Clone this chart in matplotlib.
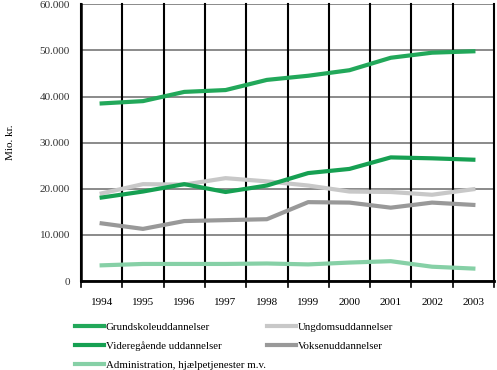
import matplotlib.pyplot as plt
import numpy as np

years = ["1994", "1995", "1996", "1997", "1998", "1999", "2000", "2001", "2002", "2003"]
grundskole = [38500, 39000, 41000, 41400, 43600, 44500, 45700, 48400, 49500, 49800]
ungdom = [19000, 21000, 20900, 22300, 21600, 20700, 19400, 19300, 18700, 19900]
videregaaende = [18100, 19400, 21000, 19300, 20700, 23400, 24300, 26800, 26600, 26300]
voksen = [12500, 11300, 13000, 13200, 13400, 17100, 17000, 15900, 17000, 16500]
admin = [3400, 3700, 3700, 3700, 3800, 3600, 4000, 4300, 3100, 2700]

plt.rcParams['font.family'] = ['Liberation Serif', 'DejaVu Serif']

fig = plt.figure(figsize=(4.97, 3.70), dpi=100)
ax = fig.add_axes([0.163, 0.2405, 0.831, 0.748])

x = np.arange(len(years))
lw = 3
l1, = ax.plot(x, grundskole, color='#22a85a', lw=lw, label='Grundskoleuddannelser')
l2, = ax.plot(x, ungdom, color='#c8c8c8', lw=lw, label='Ungdomsuddannelser')
l3, = ax.plot(x, videregaaende, color='#16a052', lw=lw, label='Videregående uddannelser')
l4, = ax.plot(x, voksen, color='#999999', lw=lw, label='Voksenuddannelser')
l5, = ax.plot(x, admin, color='#86d0a6', lw=lw, label='Administration, hjælpetjenester m.v.')

ax.set_xlim(-0.5, len(years) - 0.5)
ax.set_ylim(0, 60000)
ax.set_yticks(np.arange(0, 60001, 10000))
ax.set_yticklabels(['0', '10.000', '20.000', '30.000', '40.000', '50.000', '60.000'],
                   fontsize=8, color='#333333')
ax.set_xticks(x)
ax.set_xticklabels(years, fontsize=8)
ax.tick_params(axis='x', length=0, pad=12)
ax.tick_params(axis='y', length=0, pad=8)

# category boundary lines
for b in np.arange(-0.5, len(years) + 0.5, 1):
    ax.plot([b, b], [60000, 0], color='black', lw=1.5, zorder=1, clip_on=False)
    ax.plot([b, b], [0, -1200], color='black', lw=1.2, clip_on=False)
ax.grid(axis='y', color='#777777', lw=1.2, zorder=0)
ax.set_axisbelow(True)

for s in ['top', 'right']:
    ax.spines[s].set_visible(False)
ax.spines['left'].set_linewidth(1.8)
ax.spines['bottom'].set_linewidth(2)

fig.text(0.022, 0.615, 'Mio. kr.', rotation=90, fontsize=8, ha='center', va='center')

fig.legend([l1, l3, l5, l2, l4],
           [l1.get_label(), l3.get_label(), l5.get_label(), l2.get_label(), l4.get_label()],
           ncol=2, loc='upper left', bbox_to_anchor=(0.142, 0.14), frameon=False,
           fontsize=7.8, handlelength=2.7, handletextpad=0.15, columnspacing=0.1,
           labelspacing=0.85, borderaxespad=0)

fig.savefig('out.png', dpi=100)
